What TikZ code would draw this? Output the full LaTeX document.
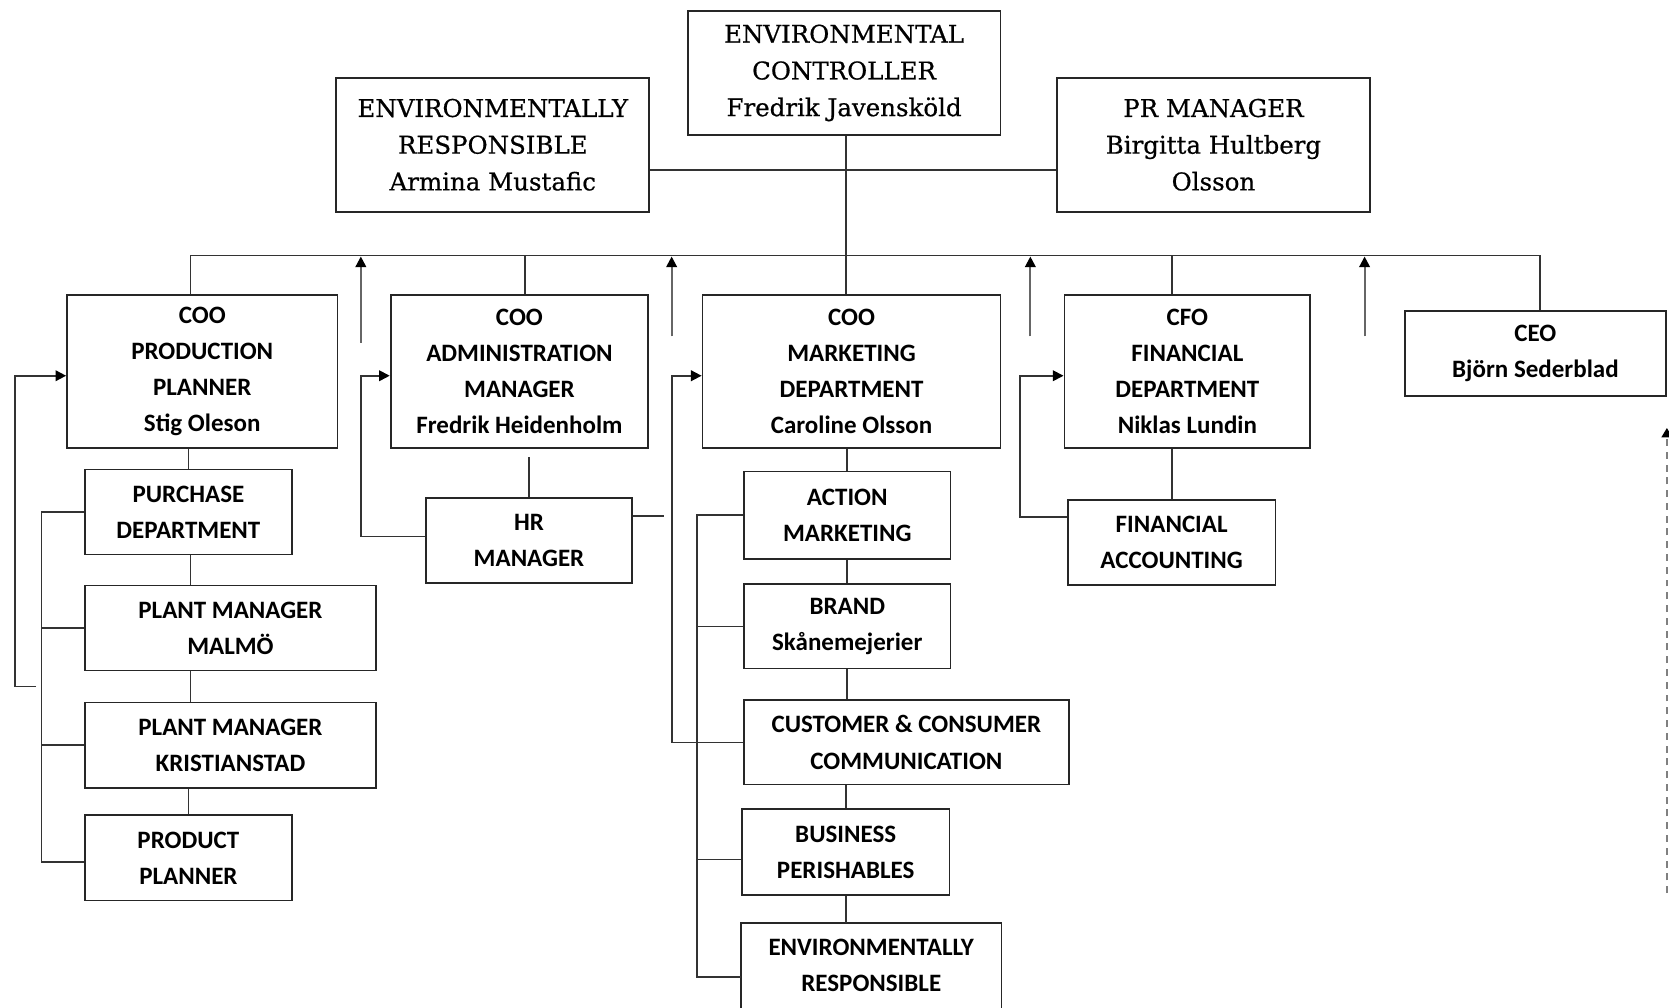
\documentclass[tikz,border=0pt]{standalone}
\usepackage{fontspec}
\setmainfont{Carlito}
\newfontfamily\serifbox[FakeBold=0.6]{DejaVu Serif}
\usetikzlibrary{arrows.meta,calc}
\begin{document}
\begin{tikzpicture}[x=1pt,y=-1pt,
  box/.style={draw=black!85, line width=1.7pt, inner sep=0pt, align=center, text=black,
              font=\bfseries\fontsize{23.5}{34}\selectfont},
  sbox/.style={box, font=\serifbox\fontsize{23}{34.5}\selectfont},
  boxline/.style={draw=black!85, line width=1.7pt},
  conn/.style={draw=black!80, line width=1.6pt},
  upar/.style={draw=black!60, line width=1.9pt, -{Triangle[width=10pt,length=10pt,color=black]}},
  loopar/.style={conn, -{Triangle[width=10pt,length=10pt,color=black]}},
  dasharrow/.style={draw=black!50, line width=2pt, dash pattern=on 6.5pt off 5.5pt,
              -{Triangle[width=10pt,length=9pt,color=black]}}
]
\useasboundingbox (0,0) rectangle (1568,947);
\clip (0,0) rectangle (1568,947);

% top level
\node[sbox, minimum width=294pt, minimum height=117pt] (ctrl) at (793,68.5) {ENVIRONMENTAL\\CONTROLLER\\Fredrik Javensköld};
\node[sbox, minimum width=294pt, minimum height=126pt] (envtop) at (463,136) {ENVIRONMENTALLY\\RESPONSIBLE\\Armina Mustafic};
\node[sbox, minimum width=294pt, minimum height=126pt] (pr) at (1140,136) {PR MANAGER\\Birgitta Hultberg\\Olsson};

% second level
\node[box, minimum width=254pt, minimum height=144pt] (pp) at (190,349) {COO\\PRODUCTION\\PLANNER\\Stig Oleson};
\node[box, minimum width=242pt, minimum height=144pt] (adm) at (488,349) {COO\\ADMINISTRATION\\MANAGER\\Fredrik Heidenholm};
\node[box, minimum width=280pt, minimum height=144pt] (mkt) at (800,349) {COO\\MARKETING\\DEPARTMENT\\Caroline Olsson};
\node[box, minimum width=231pt, minimum height=144pt] (cfo) at (1115.5,349) {CFO\\FINANCIAL\\DEPARTMENT\\Niklas Lundin};
\node[box, minimum width=245pt, minimum height=80pt] (ceo) at (1442.5,332) {CEO\\Björn Sederblad};

% production column
\node[box, minimum width=194pt, minimum height=80pt] (pur) at (177,481) {PURCHASE\\DEPARTMENT};
\node[box, minimum width=273pt, minimum height=80pt] (malmo) at (216.5,590) {PLANT MANAGER\\MALMÖ};
\node[box, minimum width=273pt, minimum height=80pt] (krist) at (216.5,700) {PLANT MANAGER\\KRISTIANSTAD};
\node[box, minimum width=194pt, minimum height=80pt] (prodp) at (177,806) {PRODUCT\\PLANNER};

% administration
\node[box, minimum width=194pt, minimum height=80pt] (hr) at (497,508) {HR\\MANAGER};

% marketing column
\node[box, minimum width=194pt, minimum height=82pt] (act) at (796,484) {ACTION\\MARKETING};
\node[box, minimum width=194pt, minimum height=79pt] (brand) at (796,588.5) {BRAND\\Skånemejerier};
\node[box, minimum width=305pt, minimum height=79pt] (cust) at (851.5,697.5) {CUSTOMER \& CONSUMER\\COMMUNICATION};
\node[box, minimum width=195pt, minimum height=81pt] (busn) at (794.5,800.5) {BUSINESS\\PERISHABLES};
\node[box, draw=none, minimum width=243pt, minimum height=78pt] (envb) at (818.5,907) {ENVIRONMENTALLY\\RESPONSIBLE};
\draw[boxline] ([yshift=-20pt]envb.south west) -- (envb.north west) -- (envb.north east) -- ([yshift=-20pt]envb.south east);

% finance
\node[box, minimum width=195pt, minimum height=80pt] (fa) at (1100.75,509.5) {FINANCIAL\\ACCOUNTING};

% helper coordinates
\coordinate (hl) at (0,160);
\coordinate (busL) at (179,240);
\coordinate (busR) at (1447,240);
\coordinate (dA) at (493,240);
\coordinate (dM) at (795,240);
\coordinate (u1) at (339,322);
\coordinate (u2) at (631,316);
\coordinate (u3) at (968,316);
\coordinate (u4) at (1282,316);
\coordinate (lpx) at (14,0);
\coordinate (lp1) at (34,645);
\coordinate (brL) at (39,0);
\coordinate (brM) at (655,0);
\coordinate (lf) at (958,0);
\coordinate (hrtop) at (496,429);
\coordinate (hrstub) at (624,485);
\coordinate (d1) at (1566,839);
\coordinate (d2) at (1566,402);

% top connectors
\draw[conn] (ctrl.south -| dM) -- (dM |- mkt.north);
\draw[conn] (envtop.east |- hl) -- (pr.west |- hl);
\draw[conn] (busL) -- (busR);
\draw[conn] (busL) -- (busL |- pp.north);
\draw[conn] (dA) -- (dA |- adm.north);
\draw[conn] (fa.north |- busL) -- (fa.north |- cfo.north);
\draw[conn] (busR) -- (busR |- ceo.north);

% up arrows
\draw[upar] (u1) -- ([yshift=-1pt]u1 |- busL);
\draw[upar] (u2) -- ([yshift=-1pt]u2 |- busL);
\draw[upar] (u3) -- ([yshift=-1pt]u3 |- busL);
\draw[upar] (u4) -- ([yshift=-1pt]u4 |- busL);

% production column
\draw[conn] (pur.north) -- (pur.north |- pp.south);
\draw[conn] (busL |- pur.south) -- (busL |- malmo.north);
\draw[conn] (busL |- malmo.south) -- (busL |- krist.north);
\draw[conn] (prodp.north) -- (prodp.north |- krist.south);
\draw[conn] (pur.west) -- (pur.west -| brL) -- ([yshift=-4pt]prodp.west -| brL) -- ([yshift=-4pt]prodp.west);
\draw[conn] (malmo.west) -- (malmo.west -| brL);
\draw[conn] (krist.west) -- (krist.west -| brL);
\draw[loopar] (lp1) -- (lp1 -| lpx) -- ([yshift=-4pt]pp.west -| lpx) -- ([yshift=-4pt]pp.west);

% administration
\draw[conn] (hr.north) -- (hr.north |- hrtop);
\draw[loopar] ([yshift=4pt]hr.west) -- ([yshift=4pt]hr.west -| u1) -- ([yshift=-4pt]adm.west -| u1) -- ([yshift=-4pt]adm.west);
\draw[conn] (hr.east |- hrstub) -- (hrstub);

% marketing column
\draw[conn] (act.north) -- (act.north |- mkt.south);
\draw[conn] (act.south) -- (act.south |- brand.north);
\draw[conn] (brand.south) -- (brand.south |- cust.north);
\draw[conn] (busn.north) -- (busn.north |- cust.south);
\draw[conn] (busn.south) -- (busn.south |- envb.north);
\draw[loopar] (cust.west) -- (cust.west -| u2) -- ([yshift=-4pt]mkt.west -| u2) -- ([yshift=-4pt]mkt.west);
\draw[conn] (act.west) -- (act.west -| brM) -- ([yshift=-11pt]envb.west -| brM) -- ([yshift=-11pt]envb.west);
\draw[conn] (brand.west) -- (brand.west -| brM);
\draw[conn] ([yshift=-7pt]busn.west) -- ([yshift=-7pt]busn.west -| brM);

% finance
\draw[conn] (fa.north) -- (fa.north |- cfo.south);
\draw[loopar] ([yshift=24pt]fa.west) -- ([yshift=24pt]fa.west -| lf) -- ([yshift=-4pt]cfo.west -| lf) -- ([yshift=-4pt]cfo.west);

% dashed arrow at right edge
\draw[dasharrow] (d1) -- (d2);
\end{tikzpicture}
\end{document}
